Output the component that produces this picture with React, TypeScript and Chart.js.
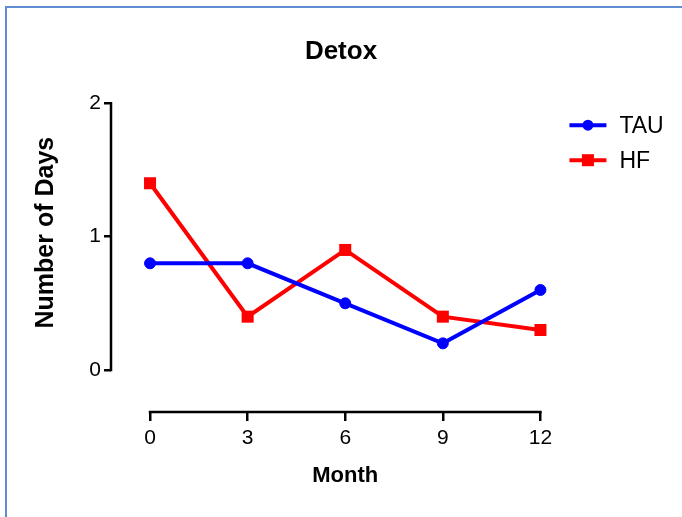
import React, { useEffect, useRef } from "react";
import { Chart, registerables } from "chart.js";

Chart.register(...registerables);

const chartTitle = "Detox";
const xTitle = "Month";
const yTitle = "Number of Days";
const months = [0, 3, 6, 9, 12];
const tauValues = [0.8, 0.8, 0.5, 0.2, 0.6];
const hfValues = [1.4, 0.4, 0.9, 0.4, 0.3];
const seriesNames = ["TAU", "HF"];
const xTickValues = [0, 3, 6, 9, 12];
const yTickValues = [0, 1, 2];

const FONT = "'Liberation Sans', Arial, Helvetica, sans-serif";

const axesPlugin = {
  id: "prismAxes",
  beforeDatasetsDraw(chart: any) {
    const { ctx, chartArea } = chart;
    const x = chart.scales.x;
    const y = chart.scales.y;
    const lw = 2.5;
    ctx.save();
    ctx.strokeStyle = "#000";
    ctx.lineWidth = lw;
    ctx.lineCap = "butt";
    ctx.beginPath();
    const yTop = y.getPixelForValue(yTickValues[yTickValues.length - 1]);
    const yBot = y.getPixelForValue(yTickValues[0]);
    ctx.moveTo(chartArea.left, yTop - lw / 2);
    ctx.lineTo(chartArea.left, yBot + lw / 2);
    const xL = x.getPixelForValue(xTickValues[0]);
    const xR = x.getPixelForValue(xTickValues[xTickValues.length - 1]);
    ctx.moveTo(xL - lw / 2, chartArea.bottom);
    ctx.lineTo(xR + lw / 2, chartArea.bottom);
    ctx.stroke();

    ctx.fillStyle = "#000";
    ctx.textAlign = "center";
    ctx.textBaseline = "middle";
    // x axis title, centred under the drawn axis line
    ctx.font = `bold 22px ${FONT}`;
    ctx.fillText(xTitle, (xL + xR) / 2, chartArea.bottom + 64);
    // y axis title, centred on the drawn axis line
    ctx.font = `bold 25px ${FONT}`;
    ctx.translate(46, (yTop + yBot) / 2 - 4);
    ctx.rotate(-Math.PI / 2);
    ctx.fillText(yTitle, 0, 0);
    ctx.restore();
  },
};

const legendPlugin = {
  id: "prismLegend",
  afterDraw(chart: any) {
    const { ctx, chartArea } = chart;
    const x = chart.scales.x;
    const xEnd = x.getPixelForValue(xTickValues[xTickValues.length - 1]);
    ctx.save();
    chart.data.datasets.forEach((ds: any, i: number) => {
      const cy = chartArea.top + 22 + i * 35;
      const x0 = xEnd + 29;
      const x1 = xEnd + 66;
      const cx = (x0 + x1) / 2;
      ctx.strokeStyle = ds.borderColor;
      ctx.lineWidth = ds.borderWidth;
      ctx.beginPath();
      ctx.moveTo(x0, cy);
      ctx.lineTo(x1, cy);
      ctx.stroke();
      ctx.fillStyle = ds.borderColor;
      ctx.beginPath();
      if (ds.pointStyle === "rect") {
        const s = ds.pointRadius * Math.SQRT1_2;
        ctx.rect(cx - s, cy - s, 2 * s, 2 * s);
      } else {
        ctx.arc(cx, cy, ds.pointRadius, 0, Math.PI * 2);
      }
      ctx.fill();
      ctx.fillStyle = "#000";
      ctx.font = `23px ${FONT}`;
      ctx.textAlign = "left";
      ctx.textBaseline = "middle";
      ctx.fillText(ds.label, xEnd + 79, cy + 1);
    });
    ctx.restore();
  },
};

export default function App() {
  const canvasRef = useRef<HTMLCanvasElement | null>(null);

  useEffect(() => {
    const canvas = canvasRef.current;
    if (!canvas) return;
    const chart = new Chart(canvas, {
      type: "line",
      data: {
        datasets: [
          {
            label: seriesNames[0],
            data: months.map((m, i) => ({ x: m, y: tauValues[i] })),
            borderColor: "#0000ff",
            backgroundColor: "#0000ff",
            pointBackgroundColor: "#0000ff",
            pointBorderColor: "#0000ff",
            borderWidth: 4,
            pointStyle: "circle",
            pointRadius: 5.5,
            pointBorderWidth: 1,
            tension: 0,
            clip: false as any,
          },
          {
            label: seriesNames[1],
            data: months.map((m, i) => ({ x: m, y: hfValues[i] })),
            borderColor: "#ff0000",
            backgroundColor: "#ff0000",
            pointBackgroundColor: "#ff0000",
            pointBorderColor: "#ff0000",
            borderWidth: 4,
            pointStyle: "rect",
            pointRadius: 8.5,
            pointBorderWidth: 0,
            tension: 0,
            clip: false as any,
          },
        ],
      },
      options: {
        animation: false,
        responsive: false,
        devicePixelRatio: 1,
        layout: { padding: { left: 0, right: 0, top: 0, bottom: 0 } },
        plugins: {
          legend: { display: false },
          tooltip: { enabled: false },
          title: {
            display: true,
            text: chartTitle,
            color: "#000",
            font: { family: FONT, size: 26, weight: "bold" },
            padding: { top: 36, bottom: 36 },
          },
        },
        scales: {
          x: {
            type: "linear",
            min: -1.2,
            max: 16.09,
            afterBuildTicks: (s: any) => {
              s.ticks = xTickValues.map((v) => ({ value: v }));
            },
            afterFit: (s: any) => {
              s.height = 105;
            },
            border: { display: false },
            grid: {
              display: true,
              drawOnChartArea: false,
              drawTicks: true,
              tickLength: 9,
              color: "#000",
              lineWidth: 2.5,
            },
            ticks: {
              color: "#000",
              font: { family: FONT, size: 21 },
              padding: 5,
              maxRotation: 0,
              autoSkip: false,
              callback: (v: any) => String(v),
            },
            title: { display: false },
          },
          y: {
            type: "linear",
            min: -0.3146,
            max: 2,
            afterBuildTicks: (s: any) => {
              s.ticks = yTickValues.map((v) => ({ value: v }));
            },
            afterFit: (s: any) => {
              s.width = 111;
            },
            border: { display: false },
            grid: {
              display: true,
              drawOnChartArea: false,
              drawTicks: true,
              tickLength: 7,
              color: "#000",
              lineWidth: 2.5,
            },
            ticks: {
              color: "#000",
              font: { family: FONT, size: 21 },
              padding: 3,
              autoSkip: false,
              callback: (v: any) => String(v),
            },
            title: { display: false },
          },
        },
      },
      plugins: [axesPlugin, legendPlugin],
    });
    return () => chart.destroy();
  }, []);

  return (
    <div
      style={{
        position: "fixed",
        left: 0,
        top: 0,
        width: 682,
        height: 517,
        background: "#fff",
        overflow: "hidden",
      }}
    >
      <canvas
        ref={canvasRef}
        width={682}
        height={517}
        style={{ position: "absolute", left: 0, top: 0, width: 682, height: 517 }}
      />
      <div
        style={{
          position: "absolute",
          left: 5,
          top: 6,
          width: 700,
          height: 540,
          borderLeft: "2px solid #5f8dd3",
          borderTop: "2px solid #5f8dd3",
          pointerEvents: "none",
        }}
      />
    </div>
  );
}
